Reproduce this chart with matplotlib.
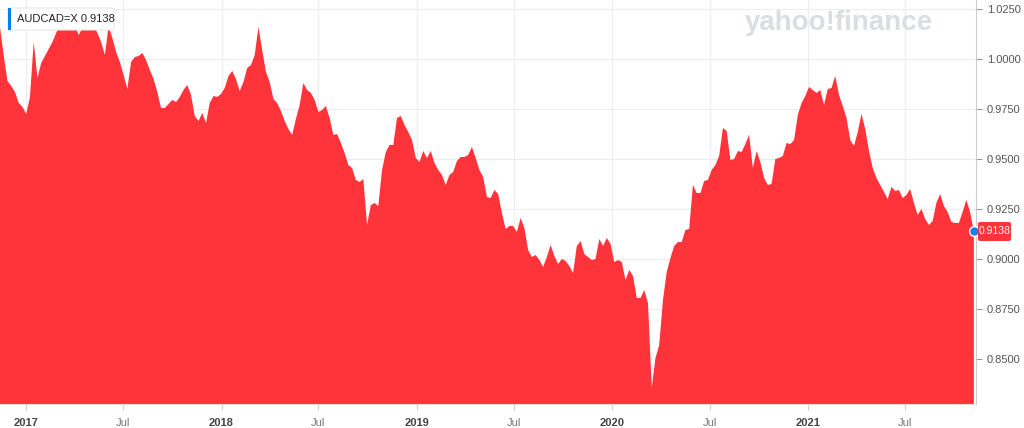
import matplotlib
matplotlib.use('Agg')
import matplotlib.pyplot as plt
from matplotlib.patches import FancyBboxPatch, Rectangle
import pandas as pd

plt.rcParams['font.family'] = ['Liberation Sans', 'DejaVu Sans']

symbol = 'AUDCAD=X'
last_price = 0.9138

# weekly closes
closes = [
    1.0160, 1.0015, 0.9890, 0.9865, 0.9835, 0.9780, 0.9760, 0.9725, 0.9810, 1.0085,
    0.9905, 0.9980, 1.0015, 1.0050, 1.0085, 1.0130, 1.0170, 1.0195, 1.0205, 1.0195,
    1.0170, 1.0120, 1.0155, 1.0185, 1.0195, 1.0170, 1.0130, 1.0085, 1.0020, 1.0165,
    1.0105, 1.0035, 0.9985, 0.9920, 0.9850, 0.9985, 1.0010, 1.0015, 1.0030, 0.9995,
    0.9945, 0.9900, 0.9835, 0.9755, 0.9755, 0.9775, 0.9795, 0.9785, 0.9810, 0.9845,
    0.9870, 0.9820, 0.9715, 0.9690, 0.9730, 0.9680, 0.9780, 0.9815, 0.9810, 0.9825,
    0.9855, 0.9915, 0.9940, 0.9900, 0.9840, 0.9885, 0.9955, 0.9970, 1.0020, 1.0160,
    1.0045, 0.9935, 0.9885, 0.9800, 0.9780, 0.9740, 0.9690, 0.9650, 0.9620, 0.9700,
    0.9770, 0.9880, 0.9845, 0.9830, 0.9795, 0.9735, 0.9745, 0.9765, 0.9705, 0.9620,
    0.9625, 0.9580, 0.9530, 0.9470, 0.9455, 0.9395, 0.9385, 0.9400, 0.9170, 0.9270,
    0.9280, 0.9265, 0.9445, 0.9535, 0.9570, 0.9570, 0.9705, 0.9715, 0.9670, 0.9635,
    0.9595, 0.9505, 0.9485, 0.9540, 0.9505, 0.9540, 0.9480, 0.9445, 0.9420, 0.9370,
    0.9420, 0.9435, 0.9490, 0.9510, 0.9510, 0.9520, 0.9560, 0.9505, 0.9445, 0.9410,
    0.9310, 0.9305, 0.9345, 0.9325, 0.9230, 0.9150, 0.9165, 0.9165, 0.9135, 0.9205,
    0.9155, 0.9045, 0.9010, 0.9020, 0.8995, 0.8960, 0.9010, 0.9070, 0.9015, 0.8975,
    0.9000, 0.8990, 0.8965, 0.8930, 0.9065, 0.9090, 0.9025, 0.9010, 0.8995, 0.9000,
    0.9100, 0.9065, 0.9105, 0.9075, 0.8985, 0.8995, 0.8985, 0.8895, 0.8945, 0.8915,
    0.8805, 0.8805, 0.8845, 0.8780, 0.8355, 0.8505, 0.8570, 0.8795, 0.8935, 0.9005,
    0.9065, 0.9085, 0.9085, 0.9145, 0.9150, 0.9370, 0.9330, 0.9330, 0.9390, 0.9395,
    0.9445, 0.9470, 0.9515, 0.9655, 0.9640, 0.9495, 0.9500, 0.9540, 0.9535, 0.9575,
    0.9620, 0.9455, 0.9540, 0.9485, 0.9405, 0.9370, 0.9375, 0.9500, 0.9505, 0.9515,
    0.9580, 0.9575, 0.9595, 0.9720, 0.9780, 0.9815, 0.9860, 0.9845, 0.9830, 0.9845,
    0.9770, 0.9850, 0.9855, 0.9915, 0.9820, 0.9765, 0.9705, 0.9595, 0.9565, 0.9635,
    0.9725, 0.9650, 0.9540, 0.9455, 0.9405, 0.9370, 0.9335, 0.9300, 0.9360, 0.9340,
    0.9345, 0.9305, 0.9320, 0.9350, 0.9280, 0.9220, 0.9250, 0.9200, 0.9170, 0.9190,
    0.9280, 0.9325, 0.9265, 0.9235, 0.9185, 0.9180, 0.9180, 0.9235, 0.9295, 0.9235,
    0.9138,
]
dates = pd.date_range('2016-11-13', periods=len(closes), freq='W')

y_ticks = [0.85, 0.875, 0.9, 0.925, 0.95, 0.975, 1.0, 1.025]
x_ticks = ['2017-01-01', '2017-07-01', '2018-01-01', '2018-07-01', '2019-01-01',
           '2019-07-01', '2020-01-01', '2020-07-01', '2021-01-01', '2021-07-01']
x_labels = ['2017', 'Jul', '2018', 'Jul', '2019', 'Jul', '2020', 'Jul', '2021', 'Jul']

red = '#ff333a'
grid_col = '#ededed'

fig = plt.figure(figsize=(10.24, 4.28), dpi=100)
W, H = 1024, 428
ax = fig.add_axes([0, 24 / H, 976 / W, 404 / H])

ax.fill_between(dates, closes, 0.8, color=red, lw=0, zorder=2)
ax.set_ylim(0.8275, 1.0295)
ax.set_xlim(dates[0], dates[-1] + pd.Timedelta(days=4))

ax.yaxis.tick_right()
ax.set_yticks(y_ticks)
ax.set_yticklabels(['%.4f' % v for v in y_ticks])
xt = pd.to_datetime(x_ticks)
ax.set_xticks(xt)
ax.set_xticklabels(x_labels)
for lbl, txt in zip(ax.get_xticklabels(), x_labels):
    if txt == 'Jul':
        lbl.set_color('#777777')
    else:
        lbl.set_color('#444444')
        lbl.set_fontweight('bold')
ax.tick_params(axis='x', length=4, color='#cccccc', labelsize=8, pad=6)
ax.tick_params(axis='y', length=4, color='#999999', labelsize=8, labelcolor='#555555', pad=4)

ax.grid(True, color=grid_col, lw=0.8, zorder=0)
ax.set_axisbelow(True)
for s in ['top', 'left']:
    ax.spines[s].set_visible(False)
ax.spines['right'].set_color('#cccccc')
ax.spines['bottom'].set_color('#dddddd')

# watermark
fig.text(839 / W, 1 - 23 / H, 'yahoo!finance', ha='center', va='center',
         fontsize=20, fontweight='bold', color='#dadde1', zorder=1)

# symbol label, top left
box = FancyBboxPatch((8 / W, 1 - 30 / H), 106 / W, 22 / H, boxstyle='round,pad=0,rounding_size=0.003',
                     transform=fig.transFigure, facecolor='white', edgecolor='#e6e6e6', lw=0.8, zorder=5)
fig.patches.append(box)
fig.patches.append(Rectangle((8 / W, 1 - 30 / H), 3 / W, 22 / H, transform=fig.transFigure,
                             facecolor='#0081f2', edgecolor='none', zorder=6))
fig.text(17 / W, 1 - 19 / H, symbol + ' %.4f' % last_price, ha='left', va='center',
         fontsize=8, color='#222222', zorder=7)

# last price badge and dot
badge = FancyBboxPatch((978 / W, 1 - 241 / H), 33 / W, 19 / H, boxstyle='round,pad=0,rounding_size=0.003',
                       transform=fig.transFigure, facecolor=red, edgecolor='none', zorder=5)
fig.patches.append(badge)
fig.text(994.5 / W, 1 - 231.5 / H, '%.4f' % last_price, ha='center', va='center',
         fontsize=7.5, color='white', zorder=7)
ax.plot([dates[-1]], [last_price], 'o', ms=7, color='#1a7fe6', mec='white', mew=1,
        zorder=6, clip_on=False)

fig.savefig('out.png', dpi=100)
